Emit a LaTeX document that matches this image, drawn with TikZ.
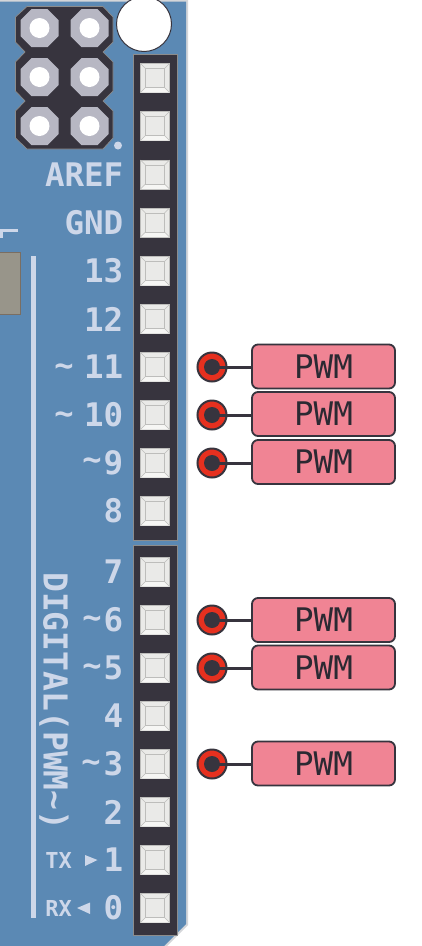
\documentclass[tikz,border=0pt]{standalone}
\usepackage{fontspec}
\setmainfont{DejaVu Sans Mono}
\definecolor{board}{HTML}{5B89B4}
\definecolor{edgegrey}{HTML}{D4D6D9}
\definecolor{ink}{HTML}{37343E}
\definecolor{pwmink}{HTML}{2B2932}
\definecolor{silk}{HTML}{CDD7E9}
\definecolor{padgrey}{HTML}{B7B7C3}
\definecolor{pinface}{HTML}{EAEAE8}
\definecolor{pinline}{HTML}{BDBDBB}
\definecolor{pinlow}{HTML}{F6F6F4}
\definecolor{hdredge}{HTML}{8C8C8C}
\definecolor{redpin}{HTML}{E6301F}
\definecolor{pinkbox}{HTML}{F08494}
\definecolor{brownbox}{HTML}{98958A}
\definecolor{brownedge}{HTML}{7A6E62}
\newcommand{\fsz}[1]{\fontsize{#1}{#1}\selectfont}
\tikzset{
  header/.style={draw=hdredge,line width=1pt,fill=ink,minimum width=44pt,inner sep=0pt,outer sep=0pt},
  pinbox/.style={draw=pinline,line width=0.8pt,fill=pinface,minimum size=29pt,inner sep=0pt,outer sep=0pt},
  pincore/.style={draw=pinline,line width=0.6pt,fill=pinface,minimum size=19pt,inner sep=0pt,outer sep=0pt},
  bevel/.style={draw=pinline,line width=0.6pt},
  silktext/.style={text=silk,inner sep=0pt,font=\fsz{32.5}\bfseries},
  silksmall/.style={text=silk,inner sep=0pt,font=\fsz{22}\bfseries},
  tilde/.style={text=silk,inner sep=0pt,font=\fsz{32}\bfseries},
  probe/.style={circle,draw=ink,line width=2pt,fill=redpin,minimum size=29pt,inner sep=0pt},
  probecore/.style={circle,fill=ink,minimum size=16pt,inner sep=0pt},
  pwmbox/.style={rectangle,rounded corners=6pt,draw=ink,line width=1.8pt,fill=pinkbox,minimum width=143pt,minimum height=44pt,inner sep=0pt,text=pwmink,font=\fsz{32.5}},
  wire/.style={draw=ink,line width=3pt},
  padshape/.style={fill=padgrey,draw=none},
}
\newcommand{\octo}[3]{% x y r
  \fill[#3] ({#1-19},{#2-8}) -- ({#1-8},{#2-19}) -- ({#1+8},{#2-19}) -- ({#1+19},{#2-8}) -- ({#1+19},{#2+8}) -- ({#1+8},{#2+19}) -- ({#1-8},{#2+19}) -- ({#1-19},{#2+8}) -- cycle;
}
\begin{document}
\begin{tikzpicture}[x=1pt,y=-1pt]
\useasboundingbox (0,0) rectangle (421,946);
% board
\fill[white] (0,0) rectangle (421,946);
\fill[edgegrey] (0,0) -- (188,0) -- (188,925) -- (167,946) -- (0,946) -- cycle;
\fill[board] (0,1.5) -- (186,1.5) -- (186,924) -- (164,946) -- (0,946) -- cycle;
% reset hole
\node[circle,fill=white,draw=ink,line width=1pt,minimum size=55pt,inner sep=0pt] (hole) at (144,24) {};
% ICSP header
\fill[ink,draw=hdredge,line width=0.7pt]
  (27,6.5) -- (103,6.5) -- (113,17) -- (113,42) -- (103,52) -- (113,62) -- (113,91) -- (103,101) -- (113,111) -- (113,138) -- (103,149) -- (27,149) -- (15.5,138) -- (15.5,111) -- (25,101) -- (15.5,91) -- (15.5,62) -- (25,52) -- (15.5,42) -- (15.5,17) -- cycle;
\foreach \x in {39.5,89.5}{\foreach \y in {28,77,126}{
  \octo{\x}{\y}{padshape}
  \fill[white] (\x,\y) circle (10);
}}
\fill[silk] (118,145.5) circle (4);
% left details
\fill[silk] (0,228.5) rectangle (18,232);
\fill[silk] (0,232) rectangle (2.5,238);
\node[rectangle,draw=brownedge,line width=1pt,fill=brownbox,minimum width=40pt,minimum height=62pt,inner sep=0pt] (chip) at (0,283.5) {};
\node[fill=silk,minimum width=4.2pt,minimum height=662pt,inner sep=0pt] (rail) at (33.5,587) {};
% headers
\node[header,minimum height=486pt] (hdrA) at (155,297) {};
\node[header,minimum height=390pt] (hdrB) at (155,740) {};
% pins
\foreach \n/\y in {a/78,b/126,c/174.5,d/222.5,p13/271,p12/319,p11/367,p10/415,p9/463,p8/511,p7/572,p6/620,p5/668,p4/716,p3/764,p2/812,p1/860,p0/908}{
  \node[pinbox] (\n) at (155,\y) {};
  \fill[pinlow] (\n.south west) -- (\n.south east) -- ([xshift=-4.5pt,yshift=4.5pt]\n.south east) -- ([xshift=4.5pt,yshift=4.5pt]\n.south west) -- cycle;
  \node[pincore] (\n c) at (155,\y) {};
  \draw[bevel] (\n.north west) -- (\n c.north west);
  \draw[bevel] (\n.north east) -- (\n c.north east);
  \draw[bevel] (\n.south west) -- (\n c.south west);
  \draw[bevel] (\n.south east) -- (\n c.south east);
}
% silkscreen labels
\foreach \t/\n/\y in {AREF/lAREF/175,GND/lGND/223,13/l13/271,12/l12/319,11/l11/367,10/l10/415,9/l9/463,8/l8/511,7/l7/572,6/l6/620,5/l5/668,4/l4/716,3/l3/764,2/l2/812,1/l1/860,0/l0/908}{
  \node[silktext,anchor=east] (\n) at (123.5,\y) {\t};
}
\foreach \n/\x/\y in {tA/64/370,tB/64/418,tC/92/464,tD/92/622,tE/92/670,tF/91/766}{
  \node[tilde] (\n) at (\x,\y) {\char`\~};
}
\node[silksmall,anchor=east] (tx) at (72,860) {TX};
\node[silksmall,anchor=east] (rx) at (72,908) {RX};
\fill[silk] (85,855) -- (97.5,860) -- (85,866) -- cycle;
\fill[silk] (90,902.5) -- (77,908) -- (90,914) -- cycle;
\node[silktext,rotate=-90,anchor=west,font=\fsz{33}\bfseries] (dig) at (54,572) {DIGITAL(PWM\char`\~)};
% PWM tags
\foreach \n/\py/\by in {A/367/366.5,B/415/414,C/463/462,D/620/620,E/668/667.5,F/764/763.5}{
  \node[pwmbox] (box\n) at (323.5,\by) {PWM};
  \node[probe] (dot\n) at (212,\py) {};
  \node[probecore] (core\n) at (dot\n.center) {};
  \draw[wire] (core\n.center) -- (box\n.west |- core\n.center);
}
\end{tikzpicture}
\end{document}
